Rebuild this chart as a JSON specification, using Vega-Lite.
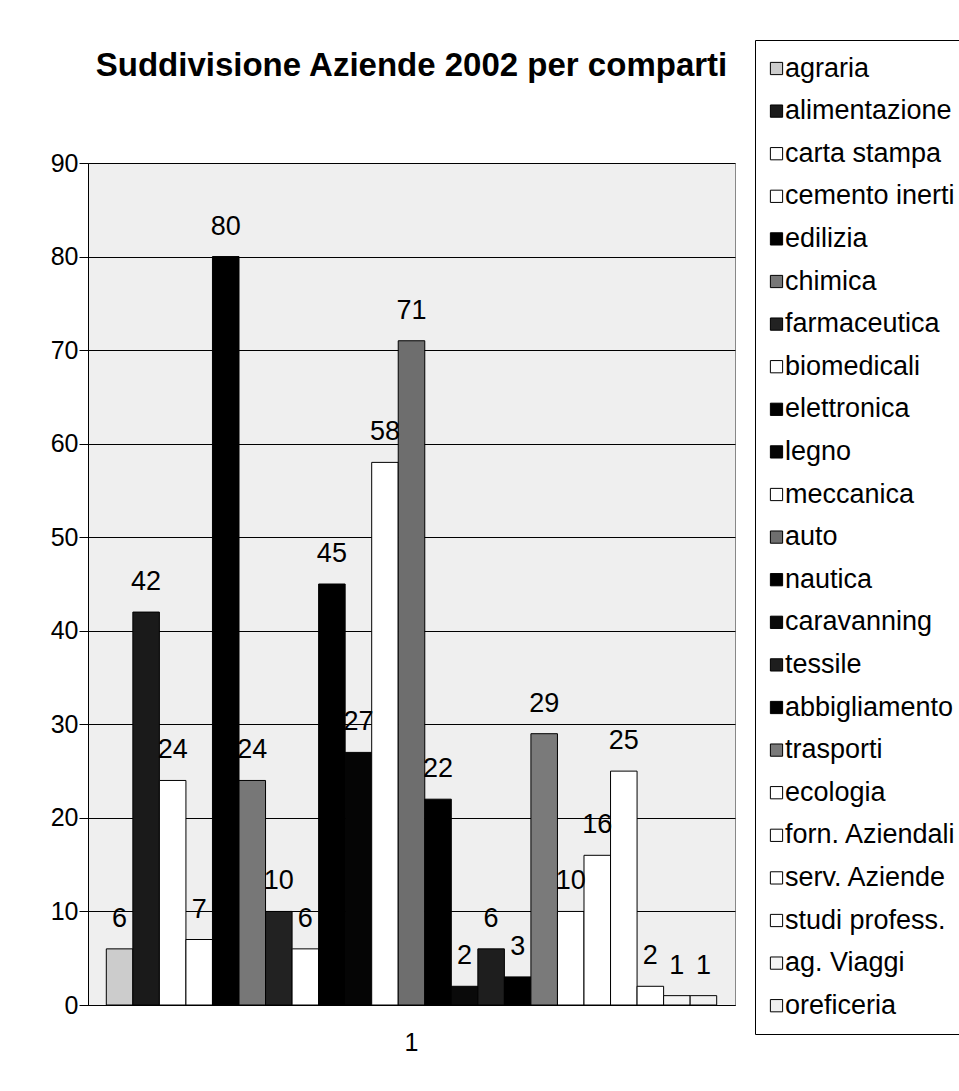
{
  "$schema": "https://vega.github.io/schema/vega-lite/v6.json",
  "width": 647,
  "height": 842,
  "autosize": "none",
  "padding": {"left": 88, "top": 163, "right": 224, "bottom": 86},
  "background": "white",
  "title": {
    "text": "Suddivisione Aziende 2002 per comparti",
    "font": "Liberation Sans",
    "fontSize": 33,
    "fontWeight": "bold",
    "color": "black",
    "anchor": "middle",
    "frame": "group",
    "baseline": "alphabetic",
    "offset": -69
  },
  "data": {
    "values": [
      {"gruppo": "1", "comparto": "agraria", "aziende": 6},
      {"gruppo": "1", "comparto": "alimentazione", "aziende": 42},
      {"gruppo": "1", "comparto": "carta stampa", "aziende": 24},
      {"gruppo": "1", "comparto": "cemento inerti", "aziende": 7},
      {"gruppo": "1", "comparto": "edilizia", "aziende": 80},
      {"gruppo": "1", "comparto": "chimica", "aziende": 24},
      {"gruppo": "1", "comparto": "farmaceutica", "aziende": 10},
      {"gruppo": "1", "comparto": "biomedicali", "aziende": 6},
      {"gruppo": "1", "comparto": "elettronica", "aziende": 45},
      {"gruppo": "1", "comparto": "legno", "aziende": 27},
      {"gruppo": "1", "comparto": "meccanica", "aziende": 58},
      {"gruppo": "1", "comparto": "auto", "aziende": 71},
      {"gruppo": "1", "comparto": "nautica", "aziende": 22},
      {"gruppo": "1", "comparto": "caravanning", "aziende": 2},
      {"gruppo": "1", "comparto": "tessile", "aziende": 6},
      {"gruppo": "1", "comparto": "abbigliamento", "aziende": 3},
      {"gruppo": "1", "comparto": "trasporti", "aziende": 29},
      {"gruppo": "1", "comparto": "ecologia", "aziende": 10},
      {"gruppo": "1", "comparto": "forn. Aziendali", "aziende": 16},
      {"gruppo": "1", "comparto": "serv. Aziende", "aziende": 25},
      {"gruppo": "1", "comparto": "studi profess.", "aziende": 2},
      {"gruppo": "1", "comparto": "ag. Viaggi", "aziende": 1},
      {"gruppo": "1", "comparto": "oreficeria", "aziende": 1}
    ]
  },
  "encoding": {
    "x": {
      "field": "gruppo",
      "type": "nominal",
      "scale": {"paddingOuter": 0.03, "paddingInner": 0},
      "axis": {
        "title": null,
        "labelAngle": 0,
        "labelFont": "Liberation Sans",
        "labelFontSize": 25,
        "labelColor": "black",
        "labelPadding": 25,
        "ticks": false,
        "domainColor": "black",
        "domainWidth": 1
      }
    },
    "xOffset": {
      "field": "comparto",
      "type": "nominal",
      "scale": {
        "domain": ["agraria", "alimentazione", "carta stampa", "cemento inerti", "edilizia", "chimica", "farmaceutica", "biomedicali", "elettronica", "legno", "meccanica", "auto", "nautica", "caravanning", "tessile", "abbigliamento", "trasporti", "ecologia", "forn. Aziendali", "serv. Aziende", "studi profess.", "ag. Viaggi", "oreficeria"],
        "paddingInner": 0,
        "paddingOuter": 0
      }
    },
    "y": {
      "field": "aziende",
      "type": "quantitative",
      "scale": {"domain": [0, 90], "nice": false},
      "axis": {
        "title": null,
        "values": [0, 10, 20, 30, 40, 50, 60, 70, 80, 90],
        "labelFont": "Liberation Sans",
        "labelFontSize": 25,
        "labelColor": "black",
        "labelPadding": 1,
        "tickColor": "black",
        "tickSize": 9,
        "domainColor": "black",
        "grid": true,
        "gridColor": "black",
        "gridOpacity": 1,
        "gridWidth": 1
      }
    }
  },
  "layer": [
    {
      "mark": {"type": "bar", "stroke": "black", "strokeWidth": 1},
      "encoding": {
        "color": {
          "field": "comparto",
          "type": "nominal",
          "scale": {
            "domain": ["agraria", "alimentazione", "carta stampa", "cemento inerti", "edilizia", "chimica", "farmaceutica", "biomedicali", "elettronica", "legno", "meccanica", "auto", "nautica", "caravanning", "tessile", "abbigliamento", "trasporti", "ecologia", "forn. Aziendali", "serv. Aziende", "studi profess.", "ag. Viaggi", "oreficeria"],
            "range": ["#cccccc", "#1a1a1a", "#ffffff", "#ffffff", "#000000", "#777777", "#222222", "#ffffff", "#000000", "#050505", "#ffffff", "#6e6e6e", "#000000", "#0a0a0a", "#1e1e1e", "#000000", "#7a7a7a", "#ffffff", "#ffffff", "#ffffff", "#ffffff", "#f4f4f4", "#f0f0f0"]
          },
          "legend": {
            "title": null,
            "orient": "none",
            "legendX": 667,
            "legendY": -123,
            "padding": 15,
            "strokeColor": "black",
            "fillColor": "white",
            "symbolType": "square",
            "symbolSize": 150,
            "symbolOffset": -7,
            "symbolStrokeColor": "black",
            "symbolStrokeWidth": 1,
            "labelFont": "Liberation Sans",
            "labelFontSize": 27,
            "labelColor": "black",
            "labelOffset": -5,
            "labelLimit": 300,
            "rowPadding": 14.6
          }
        }
      }
    },
    {
      "mark": {
        "type": "text",
        "font": "Liberation Sans",
        "fontSize": 27,
        "color": "black",
        "baseline": "alphabetic",
        "align": "center",
        "dy": -22
      },
      "encoding": {
        "text": {"field": "aziende", "type": "quantitative"}
      }
    }
  ],
  "config": {
    "view": {"fill": "#efefef", "stroke": "#888888", "strokeWidth": 1}
  }
}
